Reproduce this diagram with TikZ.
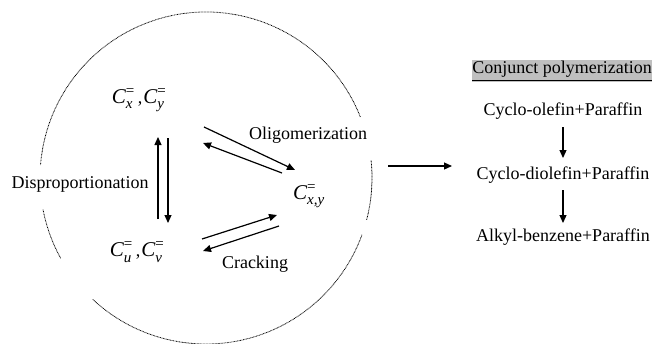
\documentclass[tikz,border=0pt]{standalone}
\usepackage{fontspec}
\usepackage{amsmath}
\setmainfont{Liberation Serif}
\usetikzlibrary{arrows.meta}
\newcommand\scr[1]{\text{\fontsize{15}{15}\selectfont #1}}
\newcommand\olef[1]{{\fontsize{21}{24}\selectfont$\textit{C}^{\scr{=}}_{\scr{\itshape #1}}$}}
\begin{document}
\begin{tikzpicture}[x=1pt,y=-1pt,font=\fontsize{18}{20}\selectfont,
  lbl/.style={inner sep=0pt},
  rxn/.style={line width=1.2pt,-{Triangle[length=8pt,width=7pt]}},
  dotc/.style={line width=0.8pt,dash pattern=on 0.8pt off 0.7pt}]
\useasboundingbox (0,0) rectangle (653,343);
% dotted circle arcs
\foreach \a/\b in {21.6/175.5, 191/209, 227/340, -14.6/6.2}
  \draw[dotc] ([shift={(\a:166pt)}]206,178) arc[start angle=\a,end angle=\b,radius=166pt];
% species and labels
\node[lbl] (cxy) at (139,100) {\olef{x}\kern3pt,\kern1pt\olef{y}};
\node[lbl] (cuv) at (137,252) {\olef{u}\kern3pt,\kern1pt\olef{v}};
\node[lbl] (cxyy) at (309,196) {\olef{x,y}};
\node[lbl] (disp) at (80,184) {Disproportionation};
\node[lbl] (olig) at (308,135) {Oligomerization};
\node[lbl] (crack) at (255,264) {Cracking};
\node[lbl,fill=gray!50,inner ysep=1pt] (conj) at (562,71) {\underline{Conjunct polymerization}};
\node[lbl] (co) at (563,111) {Cyclo-olefin+Paraffin};
\node[lbl] (cdo) at (563,175) {Cyclo-diolefin+Paraffin};
\node[lbl] (ab) at (563,237) {Alkyl-benzene+Paraffin};
% arrow end points
\coordinate (u1) at (158,219); \coordinate (u2) at (158,137);
\coordinate (d1) at (168,138); \coordinate (d2) at (168,223);
\coordinate (o1) at (204,127); \coordinate (o2) at (295,170);
\coordinate (o3) at (282,173); \coordinate (o4) at (203,143);
\coordinate (k1) at (202,239); \coordinate (k2) at (277,215);
\coordinate (k3) at (279,226); \coordinate (k4) at (203,251);
\coordinate (h1) at (388,166); \coordinate (h2) at (452,166);
\coordinate (v1) at (563,127); \coordinate (v2) at (563,158);
\coordinate (v3) at (563,190); \coordinate (v4) at (563,223);
\draw[rxn] (u1) -- (u2);
\draw[rxn] (d1) -- (d2);
\draw[rxn] (o1) -- (o2);
\draw[rxn] (o3) -- (o4);
\draw[rxn] (k1) -- (k2);
\draw[rxn] (k3) -- (k4);
\draw[rxn] (h1) -- (h2);
\draw[rxn] (v1) -- (v2);
\draw[rxn] (v3) -- (v4);
\end{tikzpicture}
\end{document}
